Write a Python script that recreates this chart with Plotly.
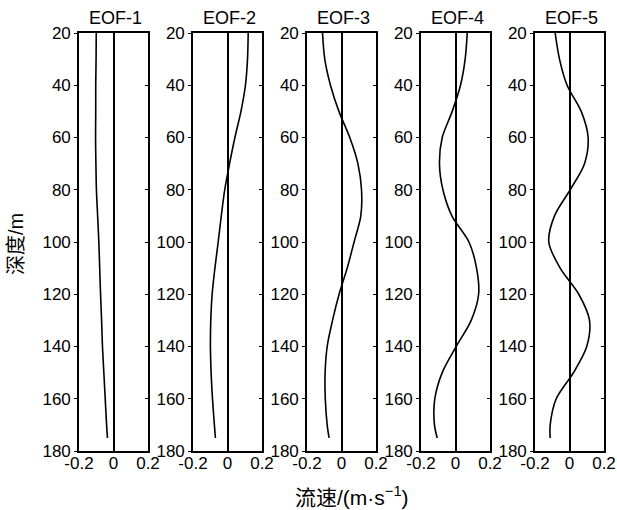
import plotly.graph_objects as go

# Depth levels (m) shared by all modes
depth = [20, 30, 40, 50, 60, 70, 80, 90, 100, 110, 120, 130, 140, 150, 160, 170, 175]

# EOF mode profiles of current speed (m/s)
eof1 = [-0.100, -0.101, -0.103, -0.103, -0.104, -0.102, -0.099, -0.092, -0.085,
        -0.080, -0.075, -0.069, -0.064, -0.056, -0.048, -0.040, -0.035]
eof2 = [0.120, 0.116, 0.104, 0.078, 0.043, 0.012, -0.016, -0.036, -0.054,
        -0.073, -0.089, -0.097, -0.099, -0.095, -0.087, -0.076, -0.070]
eof3 = [-0.110, -0.097, -0.064, -0.015, 0.048, 0.095, 0.116, 0.112, 0.073,
        0.033, -0.014, -0.052, -0.083, -0.095, -0.094, -0.083, -0.072]
eof4 = [0.068, 0.056, 0.029, -0.019, -0.077, -0.093, -0.073, -0.021, 0.078,
        0.122, 0.134, 0.091, 0.004, -0.077, -0.120, -0.122, -0.106]
eof5 = [-0.083, -0.058, -0.014, 0.068, 0.108, 0.087, 0.004, -0.087, -0.120,
        -0.054, 0.054, 0.116, 0.100, 0.023, -0.077, -0.112, -0.112]

profiles = [eof1, eof2, eof3, eof4, eof5]
titles = ["EOF-1", "EOF-2", "EOF-3", "EOF-4", "EOF-5"]

x_ticks = [-0.2, 0, 0.2]
x_tick_text = ["-0.2", "0", "0.2"]
y_ticks = [20, 40, 60, 80, 100, 120, 140, 160, 180]

W, H = 617, 510
panel_left = [79, 193, 307, 421, 535]
panel_w = 69
top_px, bottom_px = 33, 451

FONT = "Liberation Sans, Arial, sans-serif"
MIXED = "Liberation Sans, Noto Sans CJK SC, sans-serif"

fig = go.Figure()
layout = dict(
    width=W, height=H,
    margin=dict(l=0, r=0, t=0, b=0),
    paper_bgcolor="white", plot_bgcolor="white",
    showlegend=False,
    font=dict(family=FONT, size=17, color="black"),
    annotations=[],
)

ydom = [(H - bottom_px) / H, (H - top_px) / H]

for i, (prof, title) in enumerate(zip(profiles, titles)):
    n = i + 1
    xs = "" if n == 1 else str(n)
    xdom = [panel_left[i] / W, (panel_left[i] + panel_w) / W]

    fig.add_trace(go.Scatter(
        x=prof, y=depth, mode="lines",
        line=dict(color="black", width=1.6, shape="spline", smoothing=0.9),
        xaxis="x" + xs, yaxis="y" + xs, hoverinfo="skip",
    ))
    # empty trace carrying the right-hand tick axis
    fig.add_trace(go.Scatter(
        x=[None], y=[None], mode="lines",
        xaxis="x" + xs, yaxis="y" + str(n + 5), hoverinfo="skip",
    ))

    layout["xaxis" + xs] = dict(
        domain=xdom, anchor="y" + xs, range=[-0.2, 0.2],
        tickvals=x_ticks, ticktext=x_tick_text, ticks="",
        ticklabelstandoff=-4,
        showline=True, mirror=True, linecolor="black", linewidth=1.6,
        showgrid=False, zeroline=True, zerolinecolor="black", zerolinewidth=1.6,
        tickfont=dict(family=FONT, size=17, color="black"),
        automargin=False, fixedrange=True,
    )
    layout["yaxis" + xs] = dict(
        domain=ydom, anchor="x" + xs, range=[180, 20],
        tickvals=y_ticks, ticks="outside", ticklen=3, tickwidth=1.3, tickcolor="black",
        showline=True, mirror=True, linecolor="black", linewidth=1.6,
        showgrid=False, zeroline=False,
        tickfont=dict(family=FONT, size=17, color="black"),
        automargin=False, fixedrange=True,
    )
    layout["yaxis" + str(n + 5)] = dict(
        overlaying="y" + xs, anchor="x" + xs, side="right", range=[180, 20],
        tickvals=y_ticks, ticks="inside", ticklen=3, tickwidth=1.3, tickcolor="black",
        showticklabels=False, showline=False, showgrid=False, zeroline=False,
        automargin=False, fixedrange=True,
    )
    layout["annotations"].append(dict(
        text=title, x=(xdom[0] + xdom[1]) / 2 + 1.5 / W, y=(H - 18) / H,
        xref="paper", yref="paper", xanchor="center", yanchor="middle",
        showarrow=False, font=dict(family=FONT, size=18, color="black"),
    ))

layout["annotations"].append(dict(
    text="深度/m", x=16 / W, y=(H - 244) / H, xref="paper", yref="paper",
    xanchor="center", yanchor="middle", textangle=-90, showarrow=False,
    font=dict(family=MIXED, size=20, color="black"),
))
layout["annotations"].append(dict(
    text="流速/(m·s<sup>−1</sup>)", x=352 / W, y=(H - 496) / H,
    xref="paper", yref="paper", xanchor="center", yanchor="middle",
    showarrow=False, font=dict(family=MIXED, size=21, color="black"),
))

fig.update_layout(**layout)
fig.write_html("out.html")
